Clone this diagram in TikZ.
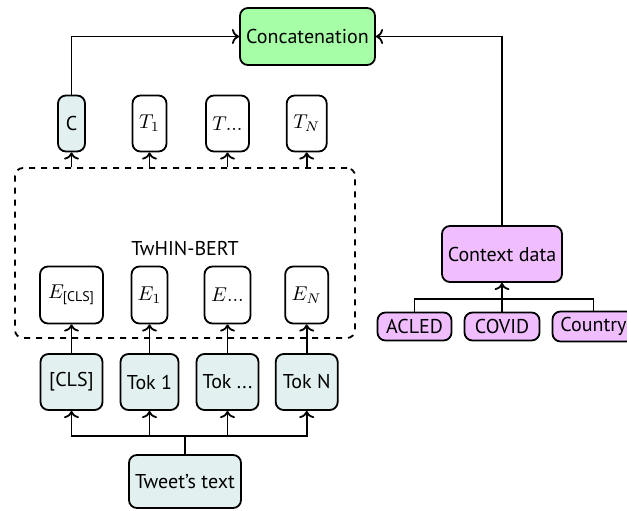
\documentclass[tikz,border=0pt]{standalone}
\usepackage{fontspec}
\usepackage{amsmath}
\setmainfont{PT Sans}
\usetikzlibrary{arrows.meta}
\definecolor{cgreen}{RGB}{166,255,166}
\definecolor{ccyan}{RGB}{226,240,240}
\definecolor{cpurple}{RGB}{240,190,255}
\tikzset{
  box/.style={draw, line width=0.9pt, rounded corners=4pt, inner sep=0pt, font=\fontsize{10}{12}\selectfont},
  arr/.style={line width=0.9pt, ->},
  ln/.style={line width=0.9pt},
}
\begin{document}
\begin{tikzpicture}[x=0.5pt, y=-0.5pt]
\useasboundingbox (0,0) rectangle (627,510);
% dashed encoder box
\node[draw, line width=0.9pt, dashed, rounded corners=4pt, minimum width=170pt, minimum height=85pt, inner sep=0pt] (bert) at (185,253) {};
\node[font=\fontsize{10}{12}\selectfont] (bertlabel) at (185,248) {TwHIN-BERT};
% top
\node[box, fill=cgreen, minimum width=67.5pt, minimum height=28.5pt] (concat) at (307.5,36.5) {Concatenation};
% output tokens
\node[box, fill=ccyan, minimum width=13.5pt, minimum height=28pt] (c) at (71.5,123.5) {C};
\node[box, minimum width=17pt, minimum height=28pt] (t1) at (149.5,123.5) {$T_1$};
\node[box, minimum width=21.5pt, minimum height=28pt] (tdots) at (227.5,123.5) {$T...$};
\node[box, minimum width=20pt, minimum height=28pt] (tn) at (306.7,123.5) {$T_N$};
% embeddings
\node[box, minimum width=31.5pt, minimum height=28.5pt] (ecls) at (71.5,295) {$E_{\text{[CLS]}}$};
\node[box, minimum width=18pt, minimum height=28.5pt] (e1) at (149.5,295) {$E_1$};
\node[box, minimum width=23pt, minimum height=28.5pt] (edots) at (227.5,295) {$E...$};
\node[box, minimum width=21.5pt, minimum height=28.5pt] (en) at (306.7,295) {$E_N$};
% tokens
\node[box, fill=ccyan, minimum width=31pt, minimum height=28pt] (tcls) at (71.5,382) {[CLS]};
\node[box, fill=ccyan, minimum width=29pt, minimum height=28pt] (tok1) at (149.5,382) {Tok 1};
\node[box, fill=ccyan, minimum width=31pt, minimum height=28pt] (tokdots) at (227.5,382) {Tok ...};
\node[box, fill=ccyan, minimum width=31pt, minimum height=28pt] (tokn) at (306.7,382) {Tok N};
% tweet
\node[box, fill=ccyan, minimum width=56pt, minimum height=26.5pt] (tweet) at (185,481.5) {Tweet's text};
% context
\node[box, fill=cpurple, minimum width=60pt, minimum height=28pt] (ctx) at (502,254) {Context data};
\node[box, fill=cpurple, minimum width=37pt, minimum height=14pt] (acled) at (414.5,326.5) {ACLED};
\node[box, fill=cpurple, minimum width=37.5pt, minimum height=14pt] (covid) at (502,326.5) {COVID};
\node[box, fill=cpurple, minimum width=41pt, minimum height=15pt] (country) at (593.5,326.5) {Country};
% connectors
\coordinate (split) at (185,436);
\coordinate (csplit) at (502,299);
\draw[ln] (tweet) -- (split);
\foreach \n in {tcls,tok1,tokdots,tokn} \draw[arr] (split) -| (\n);
\draw[arr] (tcls) -- (ecls);
\draw[arr] (tok1) -- (e1);
\draw[arr] (tokdots) -- (edots);
\draw[arr] (tokn) -- (en);
\foreach \n in {c,t1,tdots,tn} \draw[arr] (bert.north -| \n) -- (\n);
\draw[arr] (c) |- (concat);
\draw[arr] (ctx) |- (concat);
\draw[arr] (csplit) -- (ctx);
\draw[ln] (acled) |- (csplit);
\draw[ln] (covid) -- (csplit);
\draw[ln] (country) |- (csplit);
\end{tikzpicture}
\end{document}
